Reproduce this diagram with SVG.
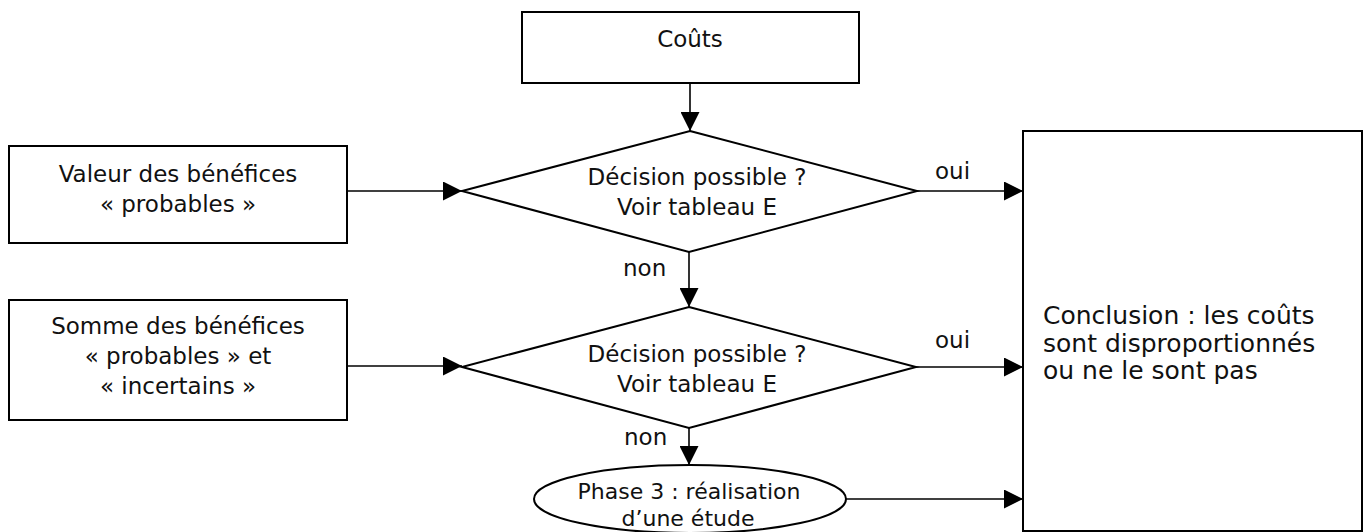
<svg xmlns="http://www.w3.org/2000/svg" width="1364" height="532" viewBox="0 0 1364 532">
<style>
.box{fill:#fff;stroke:#000;stroke-width:2}
.t{font-family:"DejaVu Sans",sans-serif;font-size:23px;fill:#111}
.c{text-anchor:middle}
.big{font-size:25px}
.sm{font-size:22px}
.ln{stroke:#000;stroke-width:1.6;fill:none;marker-end:url(#ah)}
</style>
<defs>
<marker id="ah" markerUnits="userSpaceOnUse" markerWidth="19" markerHeight="19" refX="19" refY="9.5" orient="auto">
<path d="M0,0 L19,9.5 L0,19 Z" fill="#000"/>
</marker>
</defs>
<rect width="1364" height="532" fill="#fff"/>
<g id="connectors">
<line class="ln" x1="690" y1="83" x2="690" y2="131"/>
<line class="ln" x1="347" y1="191" x2="462" y2="191"/>
<line class="ln" x1="917" y1="191" x2="1023" y2="191"/>
<line class="ln" x1="689" y1="252" x2="689" y2="307"/>
<line class="ln" x1="347" y1="366" x2="462" y2="366"/>
<line class="ln" x1="916" y1="367" x2="1023" y2="367"/>
<line class="ln" x1="689" y1="428" x2="689" y2="465"/>
<line class="ln" x1="846" y1="499" x2="1023" y2="499"/>
<text class="t" x="935" y="179">oui</text>
<text class="t" x="935" y="348">oui</text>
<text class="t" x="623" y="276">non</text>
<text class="t" x="624" y="445">non</text>
</g>
<g id="couts">
<rect class="box" x="522" y="12" width="337" height="71"/>
<text class="t c" x="690" y="47">Coûts</text>
</g>
<g id="valeur">
<rect class="box" x="9" y="146" width="338" height="97"/>
<text class="t c" x="178" y="182">Valeur des bénéfices</text>
<text class="t c" x="178" y="212">« probables »</text>
</g>
<g id="somme">
<rect class="box" x="9" y="300" width="338" height="120"/>
<text class="t c" x="178" y="334">Somme des bénéfices</text>
<text class="t c" x="178" y="364">« probables » et</text>
<text class="t c" x="178" y="394">« incertains »</text>
</g>
<g id="decision1">
<polygon class="box" points="690,131 917,191 689,252 462,191"/>
<text class="t c" x="697" y="185">Décision possible ?</text>
<text class="t c" x="697" y="215">Voir tableau E</text>
</g>
<g id="decision2">
<polygon class="box" points="689,307 916,367 689,428 462,367"/>
<text class="t c" x="697" y="362">Décision possible ?</text>
<text class="t c" x="697" y="392">Voir tableau E</text>
</g>
<g id="phase3">
<ellipse class="box" cx="690" cy="499" rx="156" ry="34"/>
<text class="t c sm" x="689" y="499">Phase 3 : réalisation</text>
<text class="t c sm" x="688" y="526">d’une étude</text>
</g>
<g id="conclusion">
<rect class="box" x="1023" y="131" width="339" height="400"/>
<text class="t big" x="1043" y="324">Conclusion : les coûts</text>
<text class="t big" x="1043" y="352">sont disproportionnés</text>
<text class="t big" x="1043" y="379">ou ne le sont pas</text>
</g>
</svg>
